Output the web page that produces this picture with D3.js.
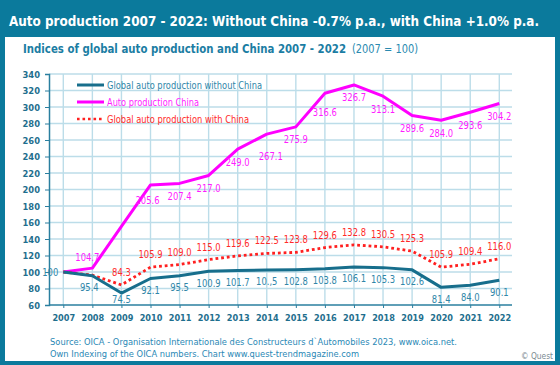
<!DOCTYPE html>
<html>
<head>
<meta charset="utf-8">
<script src="https://cdn.jsdelivr.net/npm/d3@7"></script>
<style>
  body { margin: 0; background: #fff; }
  svg text { font-family: "DejaVu Sans", Verdana, sans-serif; }
</style>
</head>
<body>
<script>
// data
var years = [2007, 2008, 2009, 2010, 2011, 2012, 2013, 2014, 2015, 2016, 2017, 2018, 2019, 2020, 2021, 2022];
var withoutChina = [100, 95.4, 74.5, 92.1, 95.5, 100.9, 101.7, 102.5, 102.8, 103.8, 106.1, 105.3, 102.6, 81.4, 84.0, 90.1];
var china = [100, 104.7, 155.3, 205.6, 207.4, 217.0, 249.0, 267.1, 275.9, 316.6, 326.7, 313.1, 289.6, 284.0, 293.6, 304.2];
var withChina = [100, 96.2, 84.3, 105.9, 109.0, 115.0, 119.6, 122.5, 123.8, 129.6, 132.8, 130.5, 125.3, 105.9, 109.4, 116.0];
// point labels as printed (null = no label)
var withoutChinaLabels = ["100", "95.4", "74.5", "92.1", "95.5", "100.9", "101.7", "10.,5", "102.8", "103.8", "106.1", "105.3", "102.6", "81.4", "84.0", "90.1"];
var chinaLabels = [null, "104.7", null, "205.6", "207.4", "217.0", "249.0", "267.1", "275.9", "316.6", "326.7", "313.1", "289.6", "284.0", "293.6", "304.2"];
var withChinaLabels = [null, null, "84.3", "105.9", "109.0", "115.0", "119.6", "122.5", "123.8", "129.6", "132.8", "130.5", "125.3", "105.9", "109.4", "116.0"];
var yTicks = [60, 80, 100, 120, 140, 160, 180, 200, 220, 240, 260, 280, 300, 320, 340];
var seriesNames = ["Global auto production without China", "Auto production China", "Global auto production with China"];

var W = 560, H = 365;
var teal = "#0b7a9c";

var svg = d3.select("body").append("svg")
  .attr("width", W)
  .attr("height", H);

// frame + white panel
svg.append("rect").attr("width", W).attr("height", H).attr("fill", teal);
svg.append("rect").attr("x", 5).attr("y", 37).attr("width", 550).attr("height", 324).attr("fill", "#fff");

// squeeze text to a given width (source font is narrower than DejaVu)
function fitWidth(sel, w) {
  sel.attr("textLength", w).attr("lengthAdjust", "spacingAndGlyphs");
}
function squeeze(sel, k) {
  sel.each(function() {
    var w = this.getComputedTextLength();
    d3.select(this).attr("textLength", w * k).attr("lengthAdjust", "spacingAndGlyphs");
  });
}

// titles
svg.append("text")
  .attr("x", 9).attr("y", 26)
  .attr("fill", "#fff")
  .style("font-size", "14px")
  .style("font-weight", "bold")
  .text("Auto production 2007 - 2022:  Without China -0.7% p.a., with China +1.0% p.a.")
  .call(fitWidth, 530);

var sub = svg.append("text")
  .attr("x", 23).attr("y", 52.5)
  .style("font-size", "11.5px");
sub.append("tspan")
  .attr("fill", "#1b7da3")
  .style("font-weight", "bold")
  .text("Indices of global auto production and China 2007 - 2022")
  .call(fitWidth, 323);
sub.append("tspan")
  .attr("x", 352)
  .attr("fill", "#2a8ab0")
  .text("(2007 = 100)")
  .call(fitWidth, 66);

// scales
var xScale = d3.scaleLinear().domain([2007, 2022]).range([63.3, 499.3]);
var yScale = d3.scaleLinear().domain([60, 340]).range([305, 74]);

var chart = svg.append("g");

// grid
chart.selectAll(".hgrid")
  .data(yTicks.slice(1))
  .enter().append("line")
  .attr("x1", 49).attr("x2", 512)
  .attr("y1", d => yScale(d)).attr("y2", d => yScale(d))
  .attr("stroke", "#bcdde9").attr("stroke-width", 1.6);

chart.selectAll(".vgrid")
  .data(years)
  .enter().append("line")
  .attr("x1", d => xScale(d)).attr("x2", d => xScale(d))
  .attr("y1", yScale(340)).attr("y2", yScale(60))
  .attr("stroke", "#bcdde9").attr("stroke-width", 1.4);

// axes
var leftAxis = d3.axisLeft(yScale).tickValues(yTicks).tickSize(4).tickPadding(5);
var yAxisG = chart.append("g")
  .attr("transform", "translate(49,0)")
  .call(leftAxis);
yAxisG.select(".domain").attr("stroke", "#2a7f9f").attr("stroke-width", 1.5);
yAxisG.selectAll(".tick line").attr("stroke", "#2a7f9f");
yAxisG.selectAll("text")
  .attr("fill", "#1f6f8e")
  .style("font-size", "9.5px")
  .style("font-weight", "bold")
  .call(squeeze, 0.88);

var bottomAxis = d3.axisBottom(xScale).tickValues(years).tickFormat(d3.format("d")).tickSize(3).tickPadding(6);
var xAxisG = chart.append("g")
  .attr("transform", "translate(0,305)")
  .call(bottomAxis);
xAxisG.select(".domain").remove();
xAxisG.selectAll(".tick line").attr("stroke", "#2a7f9f");
xAxisG.selectAll("text")
  .attr("fill", "#1f6f8e")
  .style("font-size", "9.5px")
  .style("font-weight", "bold")
  .call(squeeze, 0.86);
chart.append("line")
  .attr("x1", 49).attr("x2", 512)
  .attr("y1", 305).attr("y2", 305)
  .attr("stroke", "#2a7f9f").attr("stroke-width", 1.5);

// lines
var line = d3.line()
  .x((d, i) => xScale(years[i]))
  .y(d => yScale(d));

chart.append("path").datum(china)
  .attr("d", line).attr("fill", "none")
  .attr("stroke", "#ff00ff").attr("stroke-width", 3)
  .attr("stroke-linejoin", "round");

chart.append("path").datum(withChina)
  .attr("d", line).attr("fill", "none")
  .attr("stroke", "#ff2020").attr("stroke-width", 2.8)
  .attr("stroke-dasharray", "2.8,2.9");

chart.append("path").datum(withoutChina)
  .attr("d", line).attr("fill", "none")
  .attr("stroke", "#176e8c").attr("stroke-width", 3)
  .attr("stroke-linejoin", "round");

// point labels
var labelSize = "10px";
var labelSqueeze = 0.84;

// a few labels in the original are nudged away from the lines
var chinaNudge = { 1: [-5, -24], 3: [-3, 3], 7: [4, 9], 9: [0, 6] };

chart.selectAll(".lblChina")
  .data(chinaLabels.map((t, i) => ({ t: t, i: i })).filter(d => d.t))
  .enter().append("text")
  .attr("x", d => xScale(years[d.i]) + (chinaNudge[d.i] ? chinaNudge[d.i][0] : 0))
  .attr("y", d => yScale(china[d.i]) + 16.5 + (chinaNudge[d.i] ? chinaNudge[d.i][1] : 0))
  .attr("text-anchor", "middle")
  .attr("fill", "#ff1cff")
  .style("font-size", labelSize)
  .text(d => d.t)
  .call(squeeze, labelSqueeze);

chart.selectAll(".lblWith")
  .data(withChinaLabels.map((t, i) => ({ t: t, i: i })).filter(d => d.t))
  .enter().append("text")
  .attr("x", d => xScale(years[d.i]))
  .attr("y", d => yScale(withChina[d.i]) - 9)
  .attr("text-anchor", "middle")
  .attr("fill", "#ff2a2a")
  .style("font-size", labelSize)
  .text(d => d.t)
  .call(squeeze, labelSqueeze);

chart.selectAll(".lblWithout")
  .data(withoutChinaLabels.map((t, i) => ({ t: t, i: i })))
  .enter().append("text")
  .attr("x", d => d.i === 0 ? xScale(years[0]) - 5 : xScale(years[d.i]) + (d.i === 1 ? -3 : 0))
  .attr("y", d => d.i === 0 ? yScale(100) + 3.5 : Math.min(yScale(withoutChina[d.i]) + 15.5, 302.5))
  .attr("text-anchor", d => d.i === 0 ? "end" : "middle")
  .attr("fill", "#2f86a8")
  .style("font-size", labelSize)
  .text(d => d.t)
  .call(squeeze, labelSqueeze);

// legend
var legendColors = ["#176e8c", "#ff00ff", "#ff2020"];
var legendText = ["#2f86a8", "#ff1cff", "#ff2a2a"];
var legendWidths = [155, 92, 142];
var legend = chart.selectAll(".legend")
  .data(seriesNames)
  .enter().append("g")
  .attr("transform", (d, i) => "translate(0," + (85 + i * 17) + ")");
legend.append("line")
  .attr("x1", 77).attr("x2", 104)
  .attr("stroke", (d, i) => legendColors[i])
  .attr("stroke-width", (d, i) => i === 2 ? 2.6 : 3)
  .attr("stroke-dasharray", (d, i) => i === 2 ? "2.6,2.9" : null);
legend.append("text")
  .attr("x", 107).attr("y", 3.5)
  .attr("fill", (d, i) => legendText[i])
  .style("font-size", "10.5px")
  .text(d => d)
  .each(function(d, i) { d3.select(this).call(fitWidth, legendWidths[i]); });

// source
svg.append("text")
  .attr("x", 50).attr("y", 345)
  .attr("fill", "#2a88b5")
  .style("font-size", "9.5px")
  .text("Source: OICA - Organisation Internationale des Constructeurs d`Automobiles 2023, www.oica.net.")
  .call(fitWidth, 407);
svg.append("text")
  .attr("x", 50).attr("y", 357)
  .attr("fill", "#2a88b5")
  .style("font-size", "9.5px")
  .text("Own Indexing of the OICA numbers. Chart www.quest-trendmagazine.com")
  .call(fitWidth, 309);
svg.append("text")
  .attr("x", 553).attr("y", 359)
  .attr("text-anchor", "end")
  .attr("fill", "#7a8a90")
  .style("font-size", "8.5px")
  .text("© Quest")
  .call(fitWidth, 32);
</script>
</body>
</html>
